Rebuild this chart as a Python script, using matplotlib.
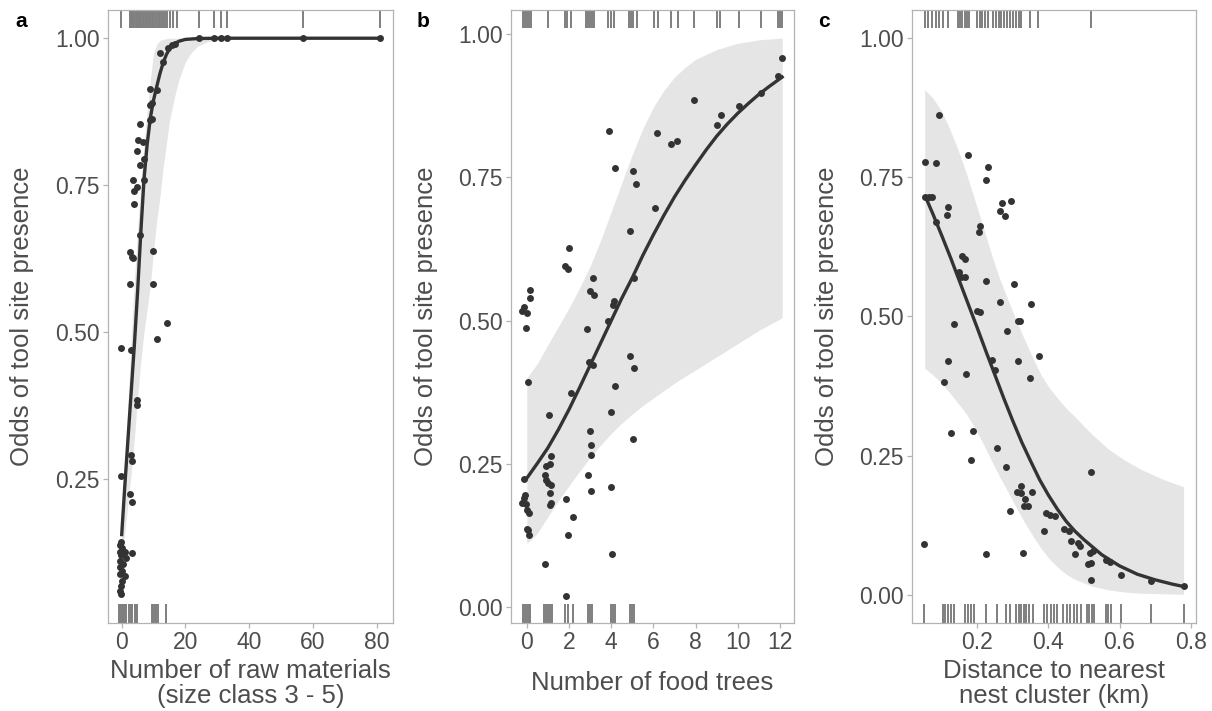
import matplotlib
matplotlib.use("Agg")
import matplotlib.pyplot as plt
import matplotlib.transforms as mtransforms

plt.rcParams["font.family"] = ["Liberation Sans", "DejaVu Sans"]

INK = "#333333"
TEXT = "#4D4D4D"
FRAME = "#B3B3B3"
RIBBON = "#E5E5E5"
RUG = "#7F7F7F"

# ---- panel a: raw materials -------------------------------------------------
a_pts_x = [12.0, 13.05, 14.5, 15.8, 16.7, 24.2, 28.9, 31.0, 33.1, 57.0, 81.0,
           8.9, 11.0, 8.9, 9.4, 8.9, 9.4, 5.7, 5.2, 6.8, 4.9, 7.1, 5.7, 3.6,
           7.1, 4.7, 4.0, 3.9, 5.7, 2.6, 3.1, 3.6, 9.9, 2.6, 9.9, 14.1, 11.0,
           -0.2, 2.9, 4.7, 4.9, 2.9, 3.1, -0.2, 2.6, 3.1, 3.1,
           -0.2, -0.5, 0.2, -0.5, 1.0, -0.2, 1.25, -0.5, 0.5, -0.5, 0.0, -0.5,
           1.0, 0.0, -0.2, -0.5, -0.2]
a_pts_y = [0.974, 0.960, 0.983, 0.988, 0.991, 1.0, 1.0, 1.0, 1.0, 1.0, 1.0,
           0.913, 0.912, 0.886, 0.889, 0.861, 0.863, 0.854, 0.827, 0.823,
           0.808, 0.794, 0.784, 0.759, 0.759, 0.747, 0.740, 0.718, 0.665,
           0.636, 0.628, 0.625, 0.638, 0.581, 0.581, 0.515, 0.488,
           0.473, 0.469, 0.384, 0.376, 0.291, 0.281, 0.254, 0.224, 0.211, 0.124,
           0.143, 0.137, 0.132, 0.125, 0.125, 0.120, 0.115, 0.110, 0.105,
           0.099, 0.093, 0.088, 0.085, 0.076, 0.068, 0.059, 0.053]
a_fit_x = [0, 1, 2, 3, 4, 5, 6, 7, 8, 9, 10, 11, 12, 13, 14, 15, 16, 18, 20,
           24, 30, 81]
a_fit_y = [0.155, 0.24, 0.32, 0.40, 0.48, 0.57, 0.67, 0.76, 0.82, 0.865,
           0.895, 0.918, 0.94, 0.958, 0.972, 0.982, 0.989, 0.995, 0.998,
           0.9995, 1.0, 1.0]
a_band_x = [0, 1, 2, 3, 4, 5, 6, 7, 8, 9, 10, 11, 12, 13, 14, 15, 16, 17, 18,
            20, 22, 24, 27, 30, 35, 40, 81]
a_band_hi = [0.19, 0.27, 0.38, 0.49, 0.59, 0.675, 0.755, 0.82, 0.875, 0.93,
             0.975, 0.99, 0.996, 0.998, 0.999, 1.0, 1.0, 1.0, 1.0, 1.0, 1.0,
             1.0, 1.0, 1.0, 1.0, 1.0, 1.0]
a_band_lo = [0.12, 0.16, 0.21, 0.26, 0.32, 0.39, 0.45, 0.50, 0.54, 0.58,
             0.64, 0.69, 0.73, 0.78, 0.82, 0.86, 0.885, 0.91, 0.93, 0.96,
             0.977, 0.987, 0.994, 0.997, 0.999, 1.0, 1.0]
a_rug_top = [-0.2, 2.6, 3.0, 3.3, 3.6, 4.0, 4.4, 4.7, 5.0, 5.4, 5.7, 6.2, 6.8,
             7.1, 7.6, 8.0, 8.5, 8.9, 9.4, 9.9, 10.4, 11.0, 11.6, 12.0, 12.5,
             13.0, 13.6, 14.1, 15.2, 16.2, 17.3, 24.2, 28.9, 31.0, 33.1, 57.0,
             81.0]
a_rug_bot = [-0.7, -0.4, -0.1, 0.2, 0.5, 0.8, 1.1, 1.5, 2.4, 2.8, 3.2, 4.2,
             4.6, 4.9, 9.4, 9.9, 10.4, 10.9, 11.3, 14.0]

# ---- panel b: food trees ----------------------------------------------------
b_pts_x = [12.09, 11.91, 11.09, 10.06, 9.19, 9.0, 7.9, 7.11, 6.85, 6.19, 6.07,
           3.89, 4.18, 5.02, 5.19, 4.88, 1.99, 1.82, 1.97, 3.14, 5.09, 3.0,
           3.19, 4.14, 4.1, 3.87, 2.83, 0.16, 0.16, -0.13, -0.21, 0.03, -0.05,
           4.88, 5.09, 2.95, 3.16, 0.06, 2.11, 4.17, 4.01, 1.04, 2.99, 3.06,
           3.06, 5.04, 1.14, 0.9, 1.09, -0.13, 0.85, 0.9, 1.01, 1.14, 1.09,
           2.92, 3.06, 4.01, 1.85, 2.19, 1.94, -0.09, -0.13, -0.21, -0.05,
           1.1, 1.13, 0.0, 0.11, 0.0, 0.06, 0.09, 0.88, 4.06, 1.86]
b_pts_y = [0.958, 0.927, 0.898, 0.874, 0.859, 0.841, 0.885, 0.814, 0.809,
           0.828, 0.697, 0.831, 0.766, 0.761, 0.738, 0.657, 0.626, 0.595,
           0.591, 0.574, 0.575, 0.551, 0.545, 0.534, 0.528, 0.50, 0.486,
           0.554, 0.540, 0.524, 0.517, 0.514, 0.487, 0.438, 0.418, 0.427,
           0.422, 0.393, 0.373, 0.386, 0.341, 0.335, 0.308, 0.283, 0.266,
           0.293, 0.264, 0.247, 0.250, 0.223, 0.230, 0.222, 0.217, 0.213,
           0.200, 0.230, 0.202, 0.210, 0.188, 0.158, 0.126, 0.195, 0.190,
           0.181, 0.180, 0.179, 0.181, 0.169, 0.165, 0.137, 0.134, 0.126,
           0.076, 0.092, 0.020]
b_fit_x = [0, 0.5, 1, 1.5, 2, 2.5, 3, 3.5, 4, 4.5, 5, 5.5, 6, 6.5, 7, 7.5, 8,
           8.5, 9, 9.5, 10, 10.5, 11, 11.5, 12.1]
b_fit_y = [0.225, 0.251, 0.278, 0.31, 0.345, 0.383, 0.422, 0.461, 0.50,
           0.539, 0.575, 0.614, 0.65, 0.684, 0.716, 0.745, 0.772, 0.798,
           0.822, 0.843, 0.862, 0.879, 0.895, 0.909, 0.925]
b_band_x = [0, 0.5, 1, 1.5, 2, 2.5, 3, 3.5, 4, 4.5, 5, 5.5, 6, 6.5, 7, 7.5, 8,
            9, 10, 11, 12.1]
b_band_hi = [0.40, 0.425, 0.458, 0.49, 0.522, 0.557, 0.595, 0.64, 0.69, 0.74,
             0.79, 0.835, 0.873, 0.902, 0.925, 0.942, 0.956, 0.973, 0.984,
             0.99, 0.993]
b_band_lo = [0.111, 0.129, 0.158, 0.186, 0.212, 0.237, 0.261, 0.283, 0.303,
             0.321, 0.337, 0.352, 0.365, 0.378, 0.391, 0.403, 0.414, 0.437,
             0.46, 0.483, 0.505]
b_rug_top = [-0.2, -0.1, 0.0, 0.1, 0.2, 1.0, 1.8, 1.9, 2.1, 2.8, 2.9, 3.0,
             3.1, 3.2, 3.85, 4.0, 4.15, 4.85, 4.95, 5.05, 5.2, 6.05, 6.2,
             6.85, 7.15, 7.9, 9.0, 9.15, 10.05, 11.1, 11.9, 12.0, 12.1]
b_rug_bot = [-0.2, -0.1, 0.0, 0.1, 0.15, 0.8, 0.9, 1.0, 1.1, 1.2, 1.8, 1.95,
             2.2, 2.9, 3.0, 3.1, 4.0, 4.1, 4.2, 4.9, 5.0, 5.1]

# ---- panel c: distance to nest cluster --------------------------------------
c_pts_x = [0.0915, 0.054, 0.083, 0.174, 0.230, 0.225, 0.054, 0.063, 0.073,
           0.118, 0.116, 0.085, 0.270, 0.294, 0.265, 0.277, 0.207, 0.205,
           0.157, 0.165, 0.148, 0.153, 0.165, 0.225, 0.302, 0.265, 0.352,
           0.200, 0.207, 0.314, 0.321, 0.134, 0.284, 0.373, 0.118, 0.242,
           0.314, 0.249, 0.169, 0.106, 0.349, 0.127, 0.188, 0.183, 0.255,
           0.280, 0.521, 0.324, 0.312, 0.322, 0.354, 0.333, 0.331, 0.343,
           0.291, 0.394, 0.404, 0.419, 0.388, 0.444, 0.457, 0.464, 0.483,
           0.488, 0.474, 0.516, 0.525, 0.511, 0.521, 0.563, 0.572, 0.519,
           0.603, 0.689, 0.780, 0.050, 0.225, 0.329]
c_pts_y = [0.862, 0.777, 0.775, 0.789, 0.768, 0.745, 0.715, 0.714, 0.715,
           0.697, 0.682, 0.670, 0.704, 0.707, 0.690, 0.680, 0.662, 0.651,
           0.609, 0.603, 0.579, 0.570, 0.570, 0.564, 0.558, 0.525, 0.522,
           0.510, 0.508, 0.491, 0.492, 0.486, 0.474, 0.428, 0.420, 0.422,
           0.420, 0.404, 0.397, 0.382, 0.389, 0.291, 0.294, 0.242, 0.263,
           0.229, 0.221, 0.196, 0.184, 0.183, 0.184, 0.172, 0.160, 0.160,
           0.150, 0.147, 0.144, 0.141, 0.114, 0.118, 0.115, 0.097, 0.093,
           0.087, 0.073, 0.076, 0.078, 0.056, 0.057, 0.063, 0.059, 0.027,
           0.035, 0.024, 0.015, 0.091, 0.074, 0.075]
c_fit_x = [0.054, 0.075, 0.10, 0.125, 0.15, 0.175, 0.20, 0.225, 0.25, 0.275,
           0.30, 0.325, 0.35, 0.375, 0.40, 0.425, 0.45, 0.475, 0.50, 0.55,
           0.60, 0.65, 0.70, 0.75, 0.78]
c_fit_y = [0.715, 0.684, 0.645, 0.605, 0.563, 0.521, 0.479, 0.436, 0.394,
           0.352, 0.312, 0.274, 0.240, 0.207, 0.179, 0.154, 0.132, 0.114,
           0.099, 0.072, 0.052, 0.037, 0.027, 0.019, 0.015]
c_band_x = [0.052, 0.075, 0.099, 0.122, 0.146, 0.17, 0.193, 0.216, 0.239,
            0.262, 0.286, 0.31, 0.333, 0.357, 0.380, 0.403, 0.427, 0.45,
            0.474, 0.521, 0.568, 0.614, 0.661, 0.72, 0.780]
c_band_hi = [0.907, 0.892, 0.869, 0.837, 0.799, 0.755, 0.709, 0.661, 0.613,
             0.569, 0.530, 0.492, 0.458, 0.424, 0.394, 0.371, 0.352, 0.335,
             0.320, 0.289, 0.262, 0.242, 0.225, 0.208, 0.194]
c_band_lo = [0.407, 0.395, 0.380, 0.363, 0.344, 0.324, 0.300, 0.272, 0.242,
             0.213, 0.185, 0.156, 0.130, 0.105, 0.083, 0.064, 0.049, 0.037,
             0.028, 0.016, 0.009, 0.005, 0.003, 0.002, 0.001]
c_rug_top = [0.052, 0.062, 0.073, 0.083, 0.092, 0.103, 0.118, 0.146, 0.152,
             0.158, 0.165, 0.172, 0.178, 0.200, 0.207, 0.214, 0.222, 0.230,
             0.244, 0.252, 0.260, 0.268, 0.276, 0.284, 0.292, 0.300, 0.308,
             0.316, 0.324, 0.347, 0.371, 0.521]
c_rug_bot = [0.050, 0.103, 0.110, 0.118, 0.126, 0.134, 0.166, 0.174, 0.183,
             0.191, 0.225, 0.255, 0.280, 0.291, 0.310, 0.317, 0.324, 0.331,
             0.338, 0.345, 0.357, 0.388, 0.397, 0.406, 0.416, 0.425, 0.441,
             0.451, 0.461, 0.471, 0.481, 0.492, 0.509, 0.515, 0.522, 0.528,
             0.561, 0.568, 0.575, 0.603, 0.689, 0.780]

YLABEL = "Odds of tool site presence"


def panel(ax, pts_x, pts_y, fit_x, fit_y, band_x, band_lo, band_hi,
          rug_top, rug_bot, xlim, ylim, xticks, yticks, xlabel):
    ax.fill_between(band_x, band_lo, band_hi, color=RIBBON, lw=0, zorder=1)
    ax.scatter(pts_x, pts_y, s=25, color=INK, lw=0, zorder=3)
    ax.plot(fit_x, fit_y, color=INK, lw=2.4, zorder=4,
            solid_joinstyle="round")

    # rugs: data x, axes y
    tr = mtransforms.blended_transform_factory(ax.transData, ax.transAxes)
    ax.vlines(rug_top, 0.97, 1.0, transform=tr, color=RUG, lw=1.4, zorder=2)
    ax.vlines(rug_bot, 0.0, 0.03, transform=tr, color=RUG, lw=1.4, zorder=2)

    ax.set_xlim(*xlim)
    ax.set_ylim(*ylim)
    ax.set_xticks(xticks)
    ax.set_xticklabels([f"{t:g}" for t in xticks])
    ax.set_yticks(yticks)
    ax.set_yticklabels([f"{t:.2f}" for t in yticks])

    for s in ax.spines.values():
        s.set_color(FRAME)
        s.set_linewidth(0.9)
    ax.tick_params(colors=FRAME, labelcolor=TEXT, labelsize=16.5,
                   length=3.5, width=0.9, pad=2.5)

    ax.set_xlabel(xlabel, fontsize=18.5, color=TEXT, va="center",
                  linespacing=1.05)
    ax.xaxis.set_label_coords(0.5, -0.099)
    ax.set_ylabel(YLABEL, fontsize=18.5, color=TEXT, va="center")
    ax.yaxis.set_label_coords(-0.30, 0.5)


def main():
    fig = plt.figure(figsize=(12.12, 7.11), dpi=100)
    bottom, height = 0.1242, 0.8617
    ax_a = fig.add_axes([0.0891, bottom, 0.2352, height])
    ax_b = fig.add_axes([0.4214, bottom, 0.2337, height])
    ax_c = fig.add_axes([0.7525, bottom, 0.2343, height])

    panel(ax_a, a_pts_x, a_pts_y, a_fit_x, a_fit_y, a_band_x, a_band_lo,
          a_band_hi, a_rug_top, a_rug_bot, (-4.3, 85.1), (0.005, 1.048),
          [0, 20, 40, 60, 80], [0.25, 0.50, 0.75, 1.00],
          "Number of raw materials\n(size class 3 - 5)")
    panel(ax_b, b_pts_x, b_pts_y, b_fit_x, b_fit_y, b_band_x, b_band_lo,
          b_band_hi, b_rug_top, b_rug_bot, (-0.76, 12.66), (-0.027, 1.042),
          [0, 2, 4, 6, 8, 10, 12], [0.00, 0.25, 0.50, 0.75, 1.00],
          "Number of food trees")
    panel(ax_c, c_pts_x, c_pts_y, c_fit_x, c_fit_y, c_band_x, c_band_lo,
          c_band_hi, c_rug_top, c_rug_bot, (0.0164, 0.815), (-0.05, 1.05),
          [0.2, 0.4, 0.6, 0.8], [0.00, 0.25, 0.50, 0.75, 1.00],
          "Distance to nearest\nnest cluster (km)")

    for x, letter in [(15, "a"), (417, "b"), (818, "c")]:
        fig.text(x / 1212, 1 - 27.3 / 711, letter, fontsize=15,
                 fontweight="bold", color="black", ha="left", va="baseline")

    fig.savefig("out.png", dpi=100)


if __name__ == "__main__":
    main()
